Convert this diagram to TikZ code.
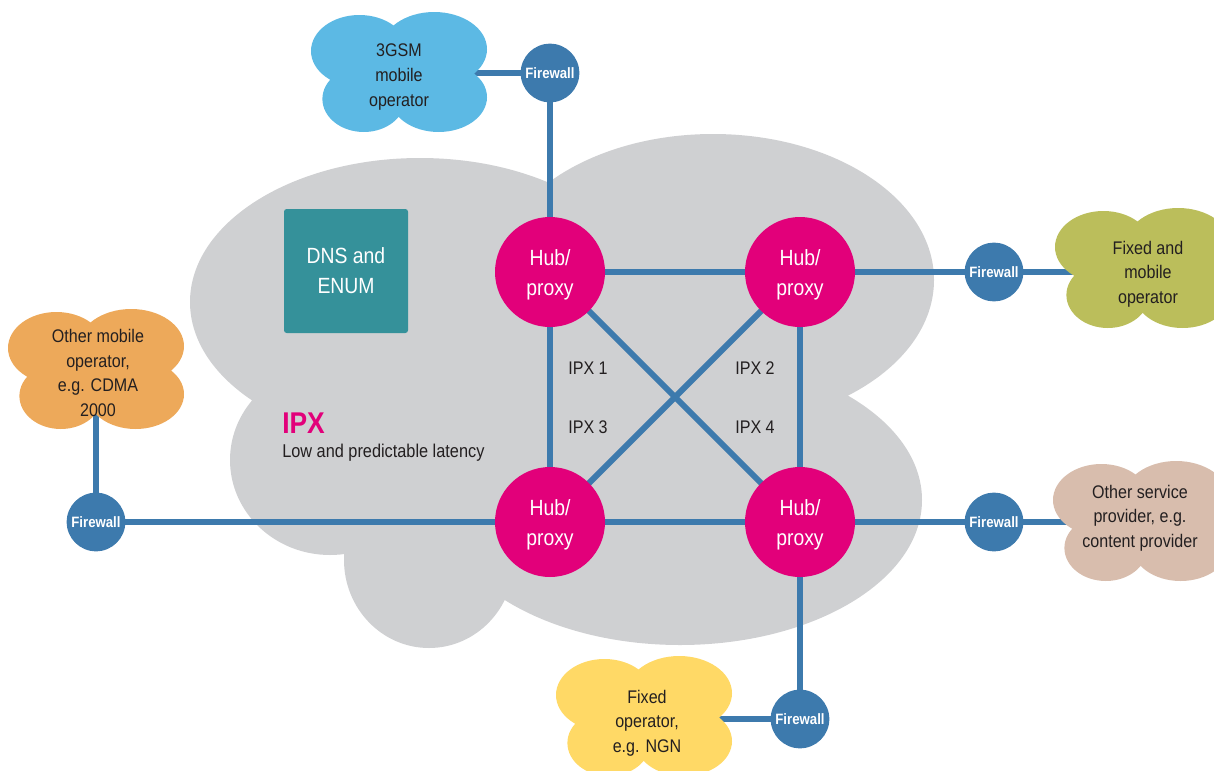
\documentclass[tikz,border=0pt]{standalone}
\usepackage{fontspec}
\setmainfont{Liberation Sans}[FakeStretch=0.88]
\definecolor{ipxgray}{HTML}{CFD0D2}
\definecolor{linkblue}{HTML}{3D7AAD}
\definecolor{hubpink}{HTML}{E2007A}
\definecolor{dnsteal}{HTML}{35919A}
\definecolor{gsmblue}{HTML}{5CB9E4}
\definecolor{orangec}{HTML}{EDA95A}
\definecolor{olivec}{HTML}{BBBE5B}
\definecolor{tanc}{HTML}{D8BDAD}
\definecolor{yellowc}{HTML}{FFD966}
\definecolor{txt}{HTML}{231F20}
\pgfdeclarelayer{back}
\pgfdeclarelayer{links}
\pgfsetlayers{back,links,main}
\tikzset{
  hub/.style={circle, fill=hubpink, minimum size=82.5pt, inner sep=0pt, text=white,
    align=center, font=\fontsize{16.5}{22.5}\selectfont},
  hubtext/.style={inner sep=0pt, text=white, align=center, font=\fontsize{16.5}{22.5}\selectfont},
  firewall/.style={circle, fill=linkblue, minimum size=44pt, inner sep=0pt, text=white,
    font=\fontsize{11.25}{13}\selectfont\bfseries},
  dnsbox/.style={rectangle, rounded corners=2pt, fill=dnsteal, minimum size=93pt, inner sep=0pt,
    text=white, align=center, font=\fontsize{16.5}{22.5}\selectfont},
  cloudtext/.style={text=txt, align=center, font=\fontsize{13.7}{18.4}\selectfont, inner sep=0pt},
  ipxlabel/.style={text=txt, font=\fontsize{13.7}{16}\selectfont, inner sep=0pt},
  link/.style={draw=linkblue, line width=4.5pt},
  puffcloud/.pic={
    \fill[#1] (-39.6,-21) ellipse [x radius=48.4, y radius=36]
      (35.2,-22.8) ellipse [x radius=52.8, y radius=37.2]
      (39.6,25.2) ellipse [x radius=48.4, y radius=34.8]
      (-35.2,27) ellipse [x radius=41.4, y radius=33]
      (0,0) ellipse [x radius=68, y radius=44];
  }
}
\begin{document}
\begin{tikzpicture}[x=0.75pt,y=-0.75pt]
\useasboundingbox (0,0) rectangle (1214,771);
\clip (0,0) rectangle (1214,771);
% IPX cloud
\begin{pgfonlayer}{back}
\fill[ipxgray] (420,302) ellipse [x radius=230, y radius=144]
  (713,280) ellipse [x radius=221, y radius=146]
  (330,460) ellipse [x radius=100, y radius=95]
  (429,560) ellipse [x radius=85, y radius=88]
  (680,500) ellipse [x radius=242, y radius=145];
\fill[ipxgray] (551,190) -- (840,392) -- (502,595) -- (350,545) -- (275,410) -- cycle;
\end{pgfonlayer}
% outside clouds
\pic at (399,72) {puffcloud=gsmblue};
\pic at (96,369) {puffcloud=orangec};
\pic at (1143,268) {puffcloud=olivec};
\pic at (1141,521) {puffcloud=tanc};
\pic at (644,716) {puffcloud=yellowc};
\node[cloudtext] (c1) at (399,77) {3GSM\\mobile\\operator};
\node[cloudtext] (c2) at (98,373) {Other mobile\\operator,\\e.g. CDMA\\2000};
\node[cloudtext] (c3) at (1148,274) {Fixed and\\mobile\\operator};
\node[cloudtext] (c4) at (1140,518) {Other service\\provider, e.g.\\content provider};
\node[cloudtext] (c5) at (647,723) {Fixed\\operator,\\e.g. NGN};
% hubs
\node[hub] (h1) at (550,272) {};
\node[hub] (h2) at (800,272) {};
\node[hub] (h3) at (550,522) {};
\node[hub] (h4) at (800,522) {};
\node[hubtext] (t1) at (550,275) {Hub/\\proxy};
\node[hubtext] (t2) at (800,275) {Hub/\\proxy};
\node[hubtext] (t3) at (550,525) {Hub/\\proxy};
\node[hubtext] (t4) at (800,525) {Hub/\\proxy};
% firewalls
\node[firewall] (fw1) at (550,73) {Firewall};
\node[firewall] (fw2) at (994,272) {Firewall};
\node[firewall] (fw3) at (994,522) {Firewall};
\node[firewall] (fw4) at (800,719) {Firewall};
\node[firewall] (fw5) at (96,522) {Firewall};
% DNS
\node[dnsbox] (dns) at (346,271) {DNS and\\ENUM};
% labels
\node[anchor=base west, inner sep=0pt, text=hubpink, font=\fontsize{22.5}{24}\selectfont\bfseries] (ipx) at (282,433) {IPX};
\node[anchor=base west, inner sep=0pt, text=txt, font=\fontsize{13.9}{16}\selectfont] (lat) at (282,457) {Low and predictable latency};
\node[ipxlabel] (l1) at (588,368) {IPX 1};
\node[ipxlabel] (l2) at (755,368) {IPX 2};
\node[ipxlabel] (l3) at (588,427) {IPX 3};
\node[ipxlabel] (l4) at (755,427) {IPX 4};
% connectors
\begin{pgfonlayer}{links}
\draw[link] (fw1.center) -- (fw1.center -| c1.center);
\draw[link] (fw1.center) -- (h1.center);
\draw[link] (h1.center) -- (h2.center);
\draw[link] (h1.center) -- (h3.center);
\draw[link] (h2.center) -- (h4.center);
\draw[link] (h3.center) -- (h4.center);
\draw[link] (h1.center) -- (h4.center);
\draw[link] (h2.center) -- (h3.center);
\draw[link] (h2.center) -- (fw2.center) -- (fw2.center -| c3.center);
\draw[link] (h4.center) -- (fw3.center) -- (fw3.center -| c4.center);
\draw[link] (h4.center) -- (fw4.center) -- (fw4.center -| c5.center);
\draw[link] (h3.center) -- (fw5.center);
\draw[link] (fw5.center) -- (fw5.center |- c2.center);
\end{pgfonlayer}
\end{tikzpicture}
\end{document}
